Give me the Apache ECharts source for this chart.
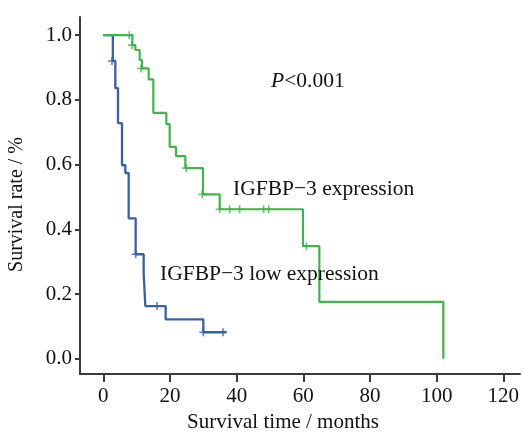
<!DOCTYPE html>
<html>
<head>
<meta charset="utf-8">
<script src="https://cdn.jsdelivr.net/npm/echarts@6/dist/echarts.min.js"></script>
<style>html,body{margin:0;padding:0;background:#fff}#c{width:523px;height:432px}</style>
</head>
<body>
<div id="c"></div>
<script>
// High IGFBP-3 expression (green) Kaplan-Meier steps
const highTimes = [0, 8.7, 9.6, 10.9, 11.6, 13.6, 15.0, 18.9, 19.9, 21.8, 24.6, 29.9, 34.9, 59.9, 64.8, 102.0];
const highSurv  = [1.0, 0.969, 0.954, 0.923, 0.897, 0.863, 0.760, 0.725, 0.655, 0.626, 0.589, 0.508, 0.462, 0.348, 0.176, 0.0];
const highCensTimes = [7.8, 8.6, 11.3, 24.9, 29.7, 34.9, 37.9, 40.9, 48.1, 49.6, 60.9];
const highCensSurv  = [1.0, 0.969, 0.897, 0.589, 0.508, 0.462, 0.462, 0.462, 0.462, 0.462, 0.348];
// Low IGFBP-3 expression (blue)
const lowTimes = [0, 2.85, 3.6, 4.4, 5.6, 6.6, 7.6, 9.7, 12.1, 12.6, 18.7, 30.0, 36.9];
const lowSurv  = [1.0, 0.920, 0.836, 0.728, 0.598, 0.574, 0.434, 0.323, 0.264, 0.163, 0.122, 0.082, 0.082];
const lowCensTimes = [2.6, 9.7, 16.1, 30.0, 35.9];
const lowCensSurv  = [0.920, 0.323, 0.163, 0.082, 0.082];
// Axis ticks
const xTicks = [0, 20, 40, 60, 80, 100, 120];
const yTicks = [0, 0.2, 0.4, 0.6, 0.8, 1.0];
const xTitle = 'Survival time / months';
const yTitle = 'Survival rate / %';
const labelHigh = 'IGFBP\u22123 expression';
const labelLow = 'IGFBP\u22123 low expression';

const zip = (a, b) => a.map((v, i) => [v, b[i]]);
const plus = 'path://M4,0h2v4h4v2h-4v4h-2v-4h-4v-2h4z';
const GREEN = '#41b34e', BLUE = '#3b5fa3', AX = '#3a3a3a';
const FONT = '"Liberation Serif", "Times New Roman", serif';

const chart = echarts.init(document.getElementById('c'), null, {renderer: 'canvas'});
chart.setOption({
  animation: false,
  backgroundColor: '#fff',
  grid: {left: 80, right: 3, top: 17, bottom: 58, containLabel: false, outerBoundsMode: 'none'},
  xAxis: {
    type: 'value', min: -7, max: 125,
    splitLine: {show: false},
    axisLine: {show: true, onZero: false, lineStyle: {color: AX, width: 2}},
    axisTick: {show: true, customValues: xTicks, length: 8, lineStyle: {color: AX, width: 2}},
    axisLabel: {customValues: xTicks, margin: 12, color: '#111', fontFamily: FONT, fontSize: 21},
    name: xTitle, nameLocation: 'middle', nameGap: 35,
    nameTextStyle: {color: '#111', fontFamily: FONT, fontSize: 21, padding: [0, 34, 0, 0]}
  },
  yAxis: {
    type: 'value', min: -0.047, max: 1.056,
    splitLine: {show: false},
    axisLine: {show: true, onZero: false, lineStyle: {color: AX, width: 2}},
    axisTick: {show: true, customValues: yTicks, length: 5, lineStyle: {color: AX, width: 2}},
    axisLabel: {customValues: yTicks, margin: 8, color: '#111', fontFamily: FONT, fontSize: 21,
      formatter: v => Number(v).toFixed(1)},
    name: yTitle, nameLocation: 'middle', nameGap: 53, nameRotate: 90,
    nameTextStyle: {color: '#111', fontFamily: FONT, fontSize: 20, padding: [0, 18, 0, 0]}
  },
  series: [
    {type: 'line', step: 'end', data: zip(lowTimes, lowSurv), symbol: 'none',
     lineStyle: {color: BLUE, width: 2.3}, z: 2},
    {type: 'scatter', data: zip(lowCensTimes, lowCensSurv), symbol: plus, symbolSize: 8,
     itemStyle: {color: BLUE}, z: 3},
    {type: 'line', step: 'end', data: zip(highTimes, highSurv), symbol: 'none',
     lineStyle: {color: GREEN, width: 2.2}, z: 4},
    {type: 'scatter', data: zip(highCensTimes, highCensSurv), symbol: plus, symbolSize: 8,
     itemStyle: {color: GREEN}, z: 5}
  ],
  graphic: [
    {type: 'text', left: 271, top: 70, z: 10,
     style: {text: '{i|P}<0.001', fill: '#111', font: '21.5px ' + FONT,
       rich: {i: {fontStyle: 'italic', fontFamily: FONT, fontSize: 21.5, fill: '#111'}}}},
    {type: 'text', left: 233, top: 178, z: 10,
     style: {text: labelHigh, fill: '#111', font: '21.5px ' + FONT}},
    {type: 'text', left: 160, top: 263, z: 10,
     style: {text: labelLow, fill: '#111', font: '21.5px ' + FONT}}
  ]
});
</script>
</body>
</html>
